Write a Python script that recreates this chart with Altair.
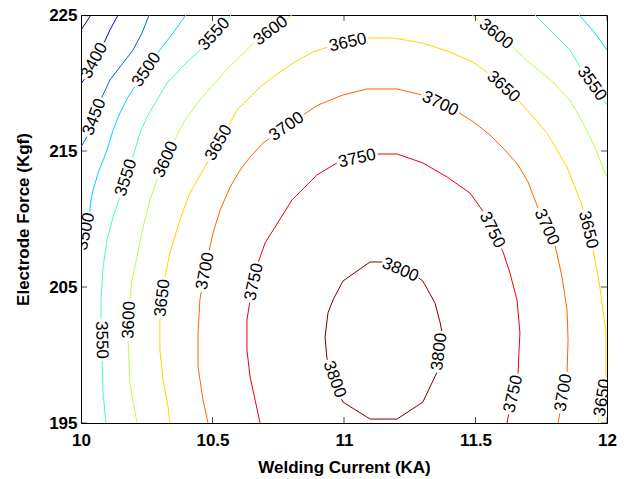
import math
import altair as alt
import pandas as pd

# Contour levels of tensile-shear strength and their jet colours
levels = [3350, 3400, 3450, 3500, 3550, 3600, 3650, 3700, 3750, 3800]
level_colors = ["#000080", "#0000f1", "#0063ff", "#00d4ff", "#47ffb8",
                "#b8ff47", "#ffd400", "#ff6300", "#f10000", "#800000"]

# Contour paths: welding current (kA) against electrode force (kgf)
x_3350 = [10.000, 10.038]
y_3350 = [223.90, 225.00]

x_3400 = [10.141, 10.110, 10.084, 10.057, 10.027, 10.000]
y_3400 = [225.00, 223.90, 222.79, 221.69, 220.66, 219.93]

x_3450 = [10.259, 10.232, 10.198, 10.148, 10.110, 10.080, 10.068, 10.053, 10.030, 10.000]
y_3450 = [225.00, 223.68, 222.43, 221.18, 220.22, 218.97, 218.16, 217.28, 216.32, 215.29]

x_3500a = [10.399, 10.350, 10.300, 10.251, 10.217, 10.179, 10.148, 10.122, 10.099, 10.065,
           10.046, 10.038, 10.034, 10.034, 10.019, 10.000]
y_3500a = [225.00, 223.68, 222.43, 220.96, 220.07, 218.97, 217.79, 216.54, 215.07, 213.38,
           212.13, 211.40, 210.66, 209.34, 208.16, 207.57]
x_3500b = [11.894, 11.951, 12.000]
y_3500b = [225.00, 223.75, 222.43]

x_3550a = [10.570, 10.517, 10.456, 10.384, 10.327, 10.289, 10.251, 10.224, 10.205, 10.194,
           10.175, 10.148, 10.122, 10.099, 10.084, 10.076, 10.076, 10.076, 10.080, 10.084, 10.095]
y_3550a = [225.00, 223.68, 222.50, 221.18, 220.00, 218.75, 217.50, 216.32, 215.07, 214.34,
           213.01, 211.62, 210.15, 208.46, 206.47, 204.04, 202.57, 201.10, 199.63, 197.21, 195.00]
x_3550b = [11.726, 11.795, 11.859, 11.897, 11.935, 11.981, 12.000]
y_3550b = [225.00, 223.68, 222.43, 221.18, 219.85, 218.90, 218.38]

x_3600a = [10.802, 10.722, 10.669, 10.559, 10.452, 10.395, 10.350, 10.327, 10.293, 10.262,
           10.236, 10.213, 10.194, 10.186, 10.186, 10.179, 10.186, 10.213]
y_3600a = [225.00, 223.82, 223.16, 221.10, 218.75, 217.28, 215.59, 214.34, 213.09, 211.40,
           209.41, 207.21, 205.51, 204.04, 202.57, 201.10, 197.94, 195.00]
x_3600b = [11.487, 11.570, 11.639, 11.707, 11.795, 11.859, 11.909, 11.954, 11.992, 12.000]
y_3600b = [225.00, 223.75, 222.65, 221.47, 220.07, 218.75, 217.06, 215.29, 213.38, 213.09]

x_3650 = [10.338, 10.331, 10.312, 10.300, 10.300, 10.312, 10.319, 10.338, 10.376, 10.414,
          10.464, 10.525, 10.593, 10.631, 10.681, 10.730, 10.806, 10.882, 10.939, 11.015,
          11.091, 11.186, 11.300, 11.403, 11.490, 11.548, 11.601, 11.662, 11.719, 11.772,
          11.810, 11.848, 11.878, 11.897, 11.913, 11.924, 11.947, 11.973, 11.996, 11.996,
          11.989, 11.966]
y_3650 = [195.00, 196.18, 198.16, 200.37, 202.57, 204.19, 205.74, 207.50, 209.93, 211.91,
          213.60, 215.59, 218.01, 218.75, 219.71, 220.44, 221.47, 222.28, 222.65, 222.94,
          223.31, 223.31, 222.94, 222.28, 221.54, 220.74, 219.63, 218.75, 217.50, 216.32,
          215.07, 213.82, 212.35, 211.40, 210.51, 209.19, 207.72, 205.00, 201.62, 198.38,
          196.84, 195.00]

x_3700 = [10.483, 10.464, 10.445, 10.445, 10.452, 10.471, 10.490, 10.502, 10.529, 10.567,
          10.605, 10.643, 10.692, 10.726, 10.783, 10.844, 10.901, 10.996, 11.087, 11.202,
          11.297, 11.365, 11.433, 11.498, 11.555, 11.612, 11.662, 11.700, 11.726, 11.745,
          11.764, 11.802, 11.829, 11.848, 11.852, 11.848, 11.840, 11.821, 11.814]
y_3700 = [195.00, 196.69, 199.12, 201.62, 204.04, 206.18, 207.94, 208.97, 210.66, 212.35,
          213.60, 214.56, 215.59, 216.03, 216.76, 217.65, 218.38, 219.12, 219.56, 219.56,
          219.12, 218.46, 217.87, 217.06, 216.18, 215.07, 213.97, 212.72, 211.40, 210.44,
          209.34, 208.09, 205.74, 203.31, 201.10, 198.68, 197.21, 195.74, 195.00]

x_3750 = [10.681, 10.662, 10.643, 10.631, 10.631, 10.643, 10.658, 10.673, 10.700, 10.745,
          10.802, 10.897, 10.973, 11.049, 11.125, 11.202, 11.300, 11.392, 11.479, 11.525,
          11.563, 11.605, 11.631, 11.658, 11.669, 11.665, 11.662, 11.646, 11.624, 11.620]
y_3750 = [195.00, 196.69, 198.38, 200.37, 202.57, 204.04, 205.37, 206.76, 208.24, 209.63,
          211.40, 213.24, 214.12, 214.56, 214.78, 214.78, 214.12, 213.09, 211.91, 210.66,
          209.19, 207.57, 206.03, 204.04, 201.62, 200.15, 198.68, 197.13, 195.44, 195.00]

x_3800 = [11.099, 11.202, 11.300, 11.354, 11.373, 11.373, 11.365, 11.346, 11.300, 11.202,
          11.099, 10.996, 10.958, 10.939, 10.928, 10.935, 10.958, 10.996, 11.099]
y_3800 = [195.29, 195.29, 196.54, 198.75, 200.22, 201.62, 202.43, 203.82, 205.44, 206.84,
          206.84, 205.44, 204.04, 203.09, 201.32, 199.78, 198.01, 196.54, 195.29]

paths = [
    (3350, x_3350, y_3350), (3400, x_3400, y_3400), (3450, x_3450, y_3450),
    (3500, x_3500a, y_3500a), (3500, x_3500b, y_3500b),
    (3550, x_3550a, y_3550a), (3550, x_3550b, y_3550b),
    (3600, x_3600a, y_3600a), (3600, x_3600b, y_3600b),
    (3650, x_3650, y_3650), (3700, x_3700, y_3700),
    (3750, x_3750, y_3750), (3800, x_3800, y_3800),
]

# Inline contour labels: level and anchor point on its contour
label_level = [3400, 3450, 3500, 3500, 3550, 3550, 3550, 3550,
               3600, 3600, 3600, 3600, 3650, 3650, 3650, 3650, 3650, 3650,
               3700, 3700, 3700, 3700, 3700, 3750, 3750, 3750, 3750,
               3800, 3800, 3800]
label_x = [10.060, 10.060, 10.251, 10.034, 10.510, 10.175, 10.076, 11.935,
           10.722, 10.327, 10.186, 11.578, 10.312, 10.525, 11.015, 11.601, 11.924, 11.989,
           10.471, 10.783, 11.365, 11.764, 11.840, 10.658, 11.049, 11.563, 11.646,
           11.213, 11.373, 10.958]
label_y = [221.54, 217.43, 220.96, 209.00, 223.53, 213.01, 201.10, 219.85,
           223.82, 214.34, 202.57, 223.60, 204.19, 215.59, 222.94, 219.63, 209.19, 196.84,
           206.18, 216.76, 218.46, 209.34, 197.21, 205.37, 214.56, 209.19, 197.13,
           206.40, 200.22, 198.16]

tick_x = [10, 10.5, 11, 11.5, 12]
tick_y = [195, 205, 215, 225]

X_DOMAIN = [10, 12]
Y_DOMAIN = [195, 225]
W, H = 526, 408
GAP = 21  # half-length of the break left in a contour under its label, px


def to_px(x, y):
    return ((x - X_DOMAIN[0]) / (X_DOMAIN[1] - X_DOMAIN[0]) * W,
            (Y_DOMAIN[1] - y) / (Y_DOMAIN[1] - Y_DOMAIN[0]) * H)


def to_data(px, py):
    return (X_DOMAIN[0] + px / W * (X_DOMAIN[1] - X_DOMAIN[0]),
            Y_DOMAIN[1] - py / H * (Y_DOMAIN[1] - Y_DOMAIN[0]))


def arclen(pts):
    s = [0.0]
    for a, b in zip(pts[:-1], pts[1:]):
        s.append(s[-1] + math.dist(a, b))
    return s


def point_at(pts, s, t):
    for i in range(len(pts) - 1):
        if t <= s[i + 1] or i == len(pts) - 2:
            seg = s[i + 1] - s[i]
            f = 0.0 if seg == 0 else min(max((t - s[i]) / seg, 0.0), 1.0)
            return (pts[i][0] + f * (pts[i + 1][0] - pts[i][0]),
                    pts[i][1] + f * (pts[i + 1][1] - pts[i][1]))
    return pts[-1]


def project(pts, s, p):
    best = (float("inf"), 0.0)
    for i in range(len(pts) - 1):
        a, b = pts[i], pts[i + 1]
        abx, aby = b[0] - a[0], b[1] - a[1]
        l2 = abx * abx + aby * aby
        f = 0.0 if l2 == 0 else min(max(((p[0] - a[0]) * abx + (p[1] - a[1]) * aby) / l2, 0.0), 1.0)
        q = (a[0] + f * abx, a[1] + f * aby)
        d = math.dist(p, q)
        if d < best[0]:
            best = (d, s[i] + f * math.sqrt(l2))
    return best


px_paths = [[to_px(x, y) for x, y in zip(xs, ys)] for _, xs, ys in paths]
arcs = [arclen(p) for p in px_paths]
cuts = [[] for _ in paths]
label_rows = []

for lev, lx, ly in zip(label_level, label_x, label_y):
    p = to_px(lx, ly)
    cand = [(project(px_paths[k], arcs[k], p), k) for k in range(len(paths)) if paths[k][0] == lev]
    (dist, s0), k = min(cand)
    length = arcs[k][-1]
    a, b = max(0.0, s0 - GAP), min(length, s0 + GAP)
    cuts[k].append((a, b))
    p1 = point_at(px_paths[k], arcs[k], a)
    p2 = point_at(px_paths[k], arcs[k], b)
    theta = math.degrees(math.atan2(p2[1] - p1[1], p2[0] - p1[0]))
    if theta > 90:
        theta -= 180
    elif theta <= -90:
        theta += 180
    cx, cy = to_data((p1[0] + p2[0]) / 2, (p1[1] + p2[1]) / 2)
    label_rows.append({"x": cx, "y": cy, "label": str(lev), "angle": theta % 360})

line_rows = []
piece = 0
for k, (lev, _, _) in enumerate(paths):
    pts, s = px_paths[k], arcs[k]
    intervals = [(0.0, s[-1])]
    for a, b in sorted(cuts[k]):
        nxt = []
        for u, v in intervals:
            if b <= u or a >= v:
                nxt.append((u, v))
            else:
                if a > u:
                    nxt.append((u, a))
                if b < v:
                    nxt.append((b, v))
        intervals = nxt
    for u, v in intervals:
        if v - u < 0.5:
            continue
        seg = [point_at(pts, s, u)] + [pts[i] for i in range(len(pts)) if u < s[i] < v] + [point_at(pts, s, v)]
        for order, (qx, qy) in enumerate(seg):
            dx, dy = to_data(qx, qy)
            line_rows.append({"x": dx, "y": dy, "level": lev, "piece": piece, "order": order})
        piece += 1

lines_df = pd.DataFrame(line_rows)
labels_df = pd.DataFrame(label_rows)
# tick positions paired with the box edge each tick sits on
ticks_x_df = pd.DataFrame({"tx": tick_x * 2, "ty": [Y_DOMAIN[0]] * len(tick_x) + [Y_DOMAIN[1]] * len(tick_x)})
ticks_y_df = pd.DataFrame({"ty": tick_y * 2, "tx": [X_DOMAIN[0]] * len(tick_y) + [X_DOMAIN[1]] * len(tick_y)})

x_scale = alt.Scale(domain=X_DOMAIN, nice=False, zero=False)
y_scale = alt.Scale(domain=Y_DOMAIN, nice=False, zero=False)

axis_text = dict(
    grid=False, ticks=False, domainColor="black", domainWidth=1,
    labelFont="Liberation Sans", labelFontWeight="bold", labelFontSize=17, labelColor="black",
    labelFlush=False, labelOverlap=False,
    titleFont="Liberation Sans", titleFontWeight="bold", titleFontSize=17, titleColor="black",
)
x_axis = alt.Axis(values=tick_x, format="~g", title="Welding Current (KA)",
                  labelPadding=9, titleY=49, titleBaseline="alphabetic", **axis_text)
y_axis = alt.Axis(values=tick_y, format="d", title="Electrode Force (Kgf)",
                  labelPadding=4, titleX=-53, titleY=H / 2, titleAngle=270,
                  titleBaseline="alphabetic", titleAlign="center", **axis_text)

lines = alt.Chart(lines_df).mark_line(strokeWidth=1, clip=True).encode(
    x=alt.X("x:Q", scale=x_scale, axis=x_axis),
    y=alt.Y("y:Q", scale=y_scale, axis=y_axis),
    color=alt.Color("level:N", scale=alt.Scale(domain=levels, range=level_colors), legend=None),
    detail="piece:N",
    order="order:Q",
)

labels = alt.Chart(labels_df).mark_text(
    font="Liberation Sans", fontSize=17, color="black",
    align="center", baseline="middle", clip=True,
).encode(
    x=alt.X("x:Q", scale=x_scale, axis=x_axis),
    y=alt.Y("y:Q", scale=y_scale, axis=y_axis),
    text="label:N",
    angle=alt.Angle("angle:Q", scale=None),
)

# inward-pointing tick marks on all four sides of the box
tick_style = dict(size=12, thickness=1, color="black", clip=True)
ticks_h = alt.Chart(ticks_x_df).mark_tick(orient="vertical", **tick_style).encode(
    x=alt.X("tx:Q", scale=x_scale, axis=x_axis),
    y=alt.Y("ty:Q", scale=y_scale, axis=y_axis),
)
ticks_v = alt.Chart(ticks_y_df).mark_tick(orient="horizontal", **tick_style).encode(
    x=alt.X("tx:Q", scale=x_scale, axis=x_axis),
    y=alt.Y("ty:Q", scale=y_scale, axis=y_axis),
)

chart = alt.layer(lines, labels, ticks_h, ticks_v).properties(
    width=W, height=H,
    padding={"left": 81, "top": 15, "right": 17, "bottom": 56},
    autosize="none",
).configure_view(
    stroke="black", strokeWidth=1,
)

chart.save("out.html", embed_options={"renderer": "svg", "actions": False})
